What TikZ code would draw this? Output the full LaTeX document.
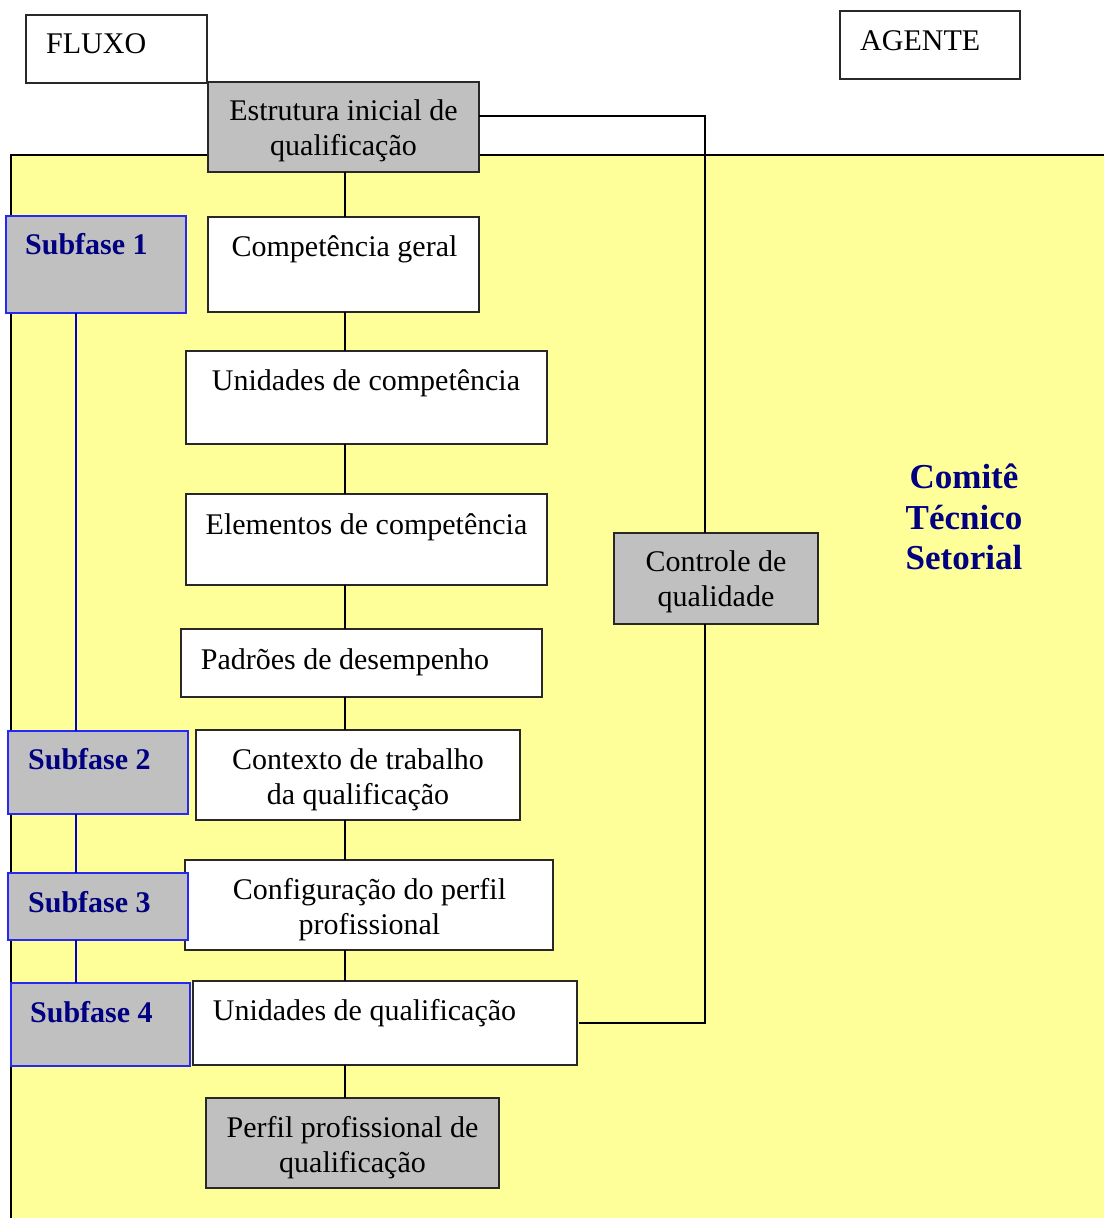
\documentclass[tikz,border=0pt]{standalone}
\usepackage{fontspec}
\setmainfont{Liberation Serif}
\usetikzlibrary{calc}
\definecolor{yellowbg}{RGB}{255,255,153}
\definecolor{grayfill}{RGB}{192,192,192}
\definecolor{navytxt}{RGB}{0,0,128}
\definecolor{subblue}{RGB}{40,40,245}
\definecolor{blueline}{RGB}{0,0,200}
\definecolor{boxline}{RGB}{40,40,40}
\tikzset{
  box/.style={rectangle, draw=boxline, line width=1.3pt, fill=white, inner sep=0pt, outer sep=0pt},
  graybox/.style={box, fill=grayfill},
  subbox/.style={rectangle, draw=subblue, line width=1.2pt, fill=grayfill, inner sep=0pt, outer sep=0pt},
  txt/.style={inner sep=0pt, font=\fontsize{30}{34}\selectfont},
  subtxt/.style={inner sep=0pt, font=\fontsize{30}{34}\selectfont\bfseries, text=navytxt},
  cmttxt/.style={inner sep=0pt, font=\fontsize{35}{41}\selectfont\bfseries, text=navytxt},
  conn/.style={line width=1.6pt, draw=black},
  bconn/.style={line width=1.6pt, draw=blueline},
}
\begin{document}
\begin{tikzpicture}[x=1pt,y=-1pt]
\useasboundingbox (0,0) rectangle (1104,1218);
% yellow committee area
\fill[yellowbg] (11,155) rectangle (1104,1218);
\draw[line width=2pt] (11,1218) -- (11,155) -- (1104,155);

\coordinate (spine) at (345,0);
\coordinate (bspine) at (76,0);

% header boxes
\node[box, minimum width=181pt, minimum height=68pt] (fluxo) at (116.5,49) {};
\node[box, minimum width=180pt, minimum height=68pt] (agente) at (930,45) {};

% flow boxes
\node[graybox, minimum width=271pt, minimum height=90pt] (est) at (343.5,127) {};
\node[box, minimum width=271pt, minimum height=95pt] (cg) at (343.5,264.5) {};
\node[box, minimum width=361pt, minimum height=93pt] (uc) at (366.5,397.5) {};
\node[box, minimum width=361pt, minimum height=91pt] (ec) at (366.5,539.5) {};
\node[box, minimum width=361pt, minimum height=68pt] (pd) at (361.5,663) {};
\node[box, minimum width=324pt, minimum height=90pt] (ct) at (358,775) {};
\node[box, minimum width=368pt, minimum height=90pt] (cp) at (369,905) {};
\node[box, minimum width=384pt, minimum height=84pt] (uq) at (385,1023) {};
\node[graybox, minimum width=293pt, minimum height=90pt] (pp) at (352.5,1143) {};
\node[graybox, minimum width=204pt, minimum height=91pt] (ctrl) at (716,578.5) {};

% subphase boxes
\node[subbox, minimum width=180pt, minimum height=97pt] (s1) at (96,264.5) {};
\node[subbox, minimum width=180pt, minimum height=83pt] (s2) at (98,772.5) {};
\node[subbox, minimum width=180pt, minimum height=67pt] (s3) at (98,906.5) {};
\node[subbox, minimum width=179pt, minimum height=83pt] (s4) at (100.5,1024.5) {};

% flow connectors
\draw[conn] (est.south -| spine) -- (cg.north -| spine);
\draw[conn] (cg.south -| spine) -- (uc.north -| spine);
\draw[conn] (uc.south -| spine) -- (ec.north -| spine);
\draw[conn] (ec.south -| spine) -- (pd.north -| spine);
\draw[conn] (pd.south -| spine) -- (ct.north -| spine);
\draw[conn] (ct.south -| spine) -- (cp.north -| spine);
\draw[conn] (cp.south -| spine) -- (uq.north -| spine);
\draw[conn] (uq.south -| spine) -- (pp.north -| spine);

% quality control loop
\draw[conn] ($(est.north east)+(0,34)$) -| ([xshift=-11pt]ctrl.north);
\draw[conn] ([xshift=-11pt]ctrl.south) |- ([xshift=2pt]uq.east);

% subphase connectors
\draw[bconn] (s1.south -| bspine) -- (s2.north -| bspine);
\draw[bconn] (s2.south -| bspine) -- (s3.north -| bspine);
\draw[bconn] (s3.south -| bspine) -- (s4.north -| bspine);

% texts
\node[txt, anchor=base west] (fluxot) at (46,53) {FLUXO};
\node[txt, anchor=base west] (agentet) at (860,50) {AGENTE};
\node[txt, anchor=base] (estt1) at (343.5,120) {Estrutura inicial de};
\node[txt, anchor=base] (estt2) at (343.5,155) {qualificação};
\node[txt, anchor=base] (cgt) at (344.5,256) {Competência geral};
\node[txt, anchor=base] (uct) at (366,390) {Unidades de competência};
\node[txt, anchor=base] (ect) at (366.5,534) {Elementos de competência};
\node[txt, anchor=base] (pdt) at (345,669) {Padrões de desempenho};
\node[txt, anchor=base] (ctt1) at (358,769) {Contexto de trabalho};
\node[txt, anchor=base] (ctt2) at (358,804) {da qualificação};
\node[txt, anchor=base] (cpt1) at (369.5,899) {Configuração do perfil};
\node[txt, anchor=base] (cpt2) at (369.5,934) {profissional};
\node[txt, anchor=base] (uqt) at (364.5,1020) {Unidades de qualificação};
\node[txt, anchor=base] (ppt1) at (352.5,1137) {Perfil profissional de};
\node[txt, anchor=base] (ppt2) at (352.5,1172) {qualificação};
\node[txt, anchor=base] (ctrlt1) at (716,571) {Controle de};
\node[txt, anchor=base] (ctrlt2) at (716,606) {qualidade};

\node[subtxt, anchor=base west] (s1t) at (25,254) {Subfase 1};
\node[subtxt, anchor=base west] (s2t) at (28,769) {Subfase 2};
\node[subtxt, anchor=base west] (s3t) at (28,912) {Subfase 3};
\node[subtxt, anchor=base west] (s4t) at (30,1022) {Subfase 4};

\node[cmttxt, anchor=base] (cmt1) at (964,488) {Comitê};
\node[cmttxt, anchor=base] (cmt2) at (964,529) {Técnico};
\node[cmttxt, anchor=base] (cmt3) at (964,569) {Setorial};
\end{tikzpicture}
\end{document}
